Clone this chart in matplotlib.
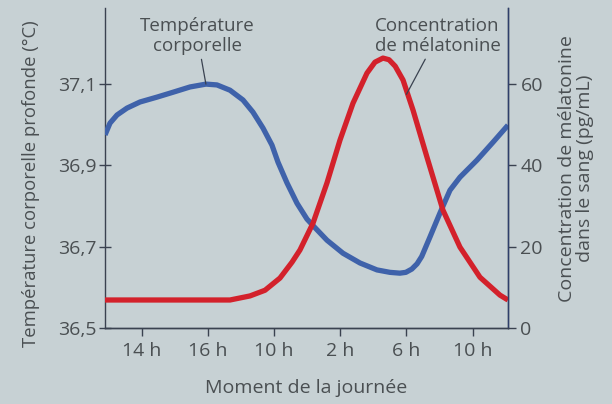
import matplotlib
matplotlib.use('Agg')
import matplotlib.pyplot as plt

plt.rcParams['font.family'] = ['Open Sans', 'DejaVu Sans']

TICK_LABELS = ["14 h", "16 h", "10 h", "2 h", "6 h", "10 h"]

# temperature (left axis, deg C), x in tick units (0 = first tick)
TEMP_X = [-0.554, -0.479, -0.373, -0.222, -0.026, 0.231, 0.473, 0.730, 0.971, 1.137,
          1.334, 1.530, 1.681, 1.832, 1.968, 2.059, 2.195, 2.346, 2.497, 2.588, 2.799,
          3.041, 3.298, 3.554, 3.75, 3.90, 3.99, 4.08, 4.16, 4.23, 4.355, 4.506, 4.657,
          4.808, 5.065, 5.307, 5.533]
TEMP_Y = [36.975, 37.004, 37.024, 37.041, 37.056, 37.068, 37.080, 37.093, 37.100, 37.098,
          37.085, 37.061, 37.031, 36.992, 36.950, 36.908, 36.857, 36.807, 36.768, 36.752,
          36.716, 36.684, 36.660, 36.643, 36.637, 36.635, 36.637, 36.645, 36.658, 36.676,
          36.724, 36.783, 36.839, 36.871, 36.913, 36.957, 36.999]

# melatonin (right axis, pg/mL)
MEL_X = [-0.554, 0.5, 1.334, 1.636, 1.863, 2.089, 2.271, 2.391, 2.588, 2.799, 2.995,
         3.192, 3.403, 3.524, 3.645, 3.736, 3.83, 3.948, 4.099, 4.310, 4.551, 4.808,
         5.110, 5.412, 5.533]
MEL_Y = [6.9, 6.9, 6.9, 7.9, 9.3, 12.3, 16.2, 19.2, 25.8, 35.7, 46.2, 55.3, 62.7, 65.4,
         66.4, 66.0, 64.4, 61.0, 53.6, 42.0, 29.0, 19.9, 12.5, 8.1, 6.9]

BG = '#c7d1d4'
TXT = '#4a4f52'
BLUE = '#3f62aa'
RED = '#d3212b'
AXC = '#3a4250'

fig = plt.figure(figsize=(6.12, 4.04), dpi=100, facecolor=BG)
ax = fig.add_axes([0.1716, 0.188, 0.6584, 0.792])
ax.set_facecolor(BG)
ax2 = ax.twinx()

ax.plot(TEMP_X, TEMP_Y, color=BLUE, lw=3.8, solid_capstyle='butt',
        solid_joinstyle='round', zorder=3)
ax2.plot(MEL_X, MEL_Y, color=RED, lw=3.8, solid_capstyle='butt',
         solid_joinstyle='round', zorder=2)

ax.set_xlim(-0.554, 5.533)
ax.set_ylim(36.5, 37.287)
ax2.set_ylim(0, 78.7)

ax.set_xticks(range(len(TICK_LABELS)))
ax.set_xticklabels(TICK_LABELS)
ax.set_yticks([36.5, 36.7, 36.9, 37.1])
ax.set_yticklabels(["36,5", "36,7", "36,9", "37,1"])
ax2.set_yticks([0, 20, 40, 60])

for a in (ax, ax2):
    a.spines['top'].set_visible(False)
    for s in a.spines.values():
        s.set_color(AXC)
        s.set_linewidth(1.0)
ax2.spines['left'].set_visible(False)
ax2.spines['right'].set_color('#2f3f6a')

ax.tick_params(axis='y', direction='inout', length=8, width=1, colors=AXC,
               labelcolor=TXT, labelsize=14, pad=2)
ax.tick_params(axis='x', direction='out', length=6, width=1, colors=AXC,
               labelcolor=TXT, labelsize=14, pad=4)
ax2.tick_params(axis='y', direction='out', length=6, width=1, colors=AXC,
                labelcolor=TXT, labelsize=14, pad=3)

ax.set_ylabel("Température corporelle profonde (°C)", color=TXT, fontsize=13.3, labelpad=13)
ax.yaxis.label.set_y(0.45)
ax.set_xlabel("Moment de la journée", color=TXT, fontsize=14, labelpad=14)
ax2.set_ylabel("Concentration de mélatonine\ndans le sang (pg/mL)", color=TXT,
               fontsize=14, labelpad=11, linespacing=1.0)

ax.annotate("Température\ncorporelle", xy=(0.97, 37.1), xytext=(0.84, 37.218),
            ha='center', va='center', color=TXT, fontsize=13.5, linespacing=1.15,
            arrowprops=dict(arrowstyle='-', color=AXC, lw=0.9, shrinkA=1, shrinkB=0))
ax2.annotate("Concentration\nde mélatonine", xy=(4.0, 57.5), xytext=(4.47, 71.8),
             ha='center', va='center', color=TXT, fontsize=13.5, linespacing=1.15,
             arrowprops=dict(arrowstyle='-', color=AXC, lw=0.9, shrinkA=1, shrinkB=0))

plt.savefig("out.png", dpi=100, facecolor=BG)
